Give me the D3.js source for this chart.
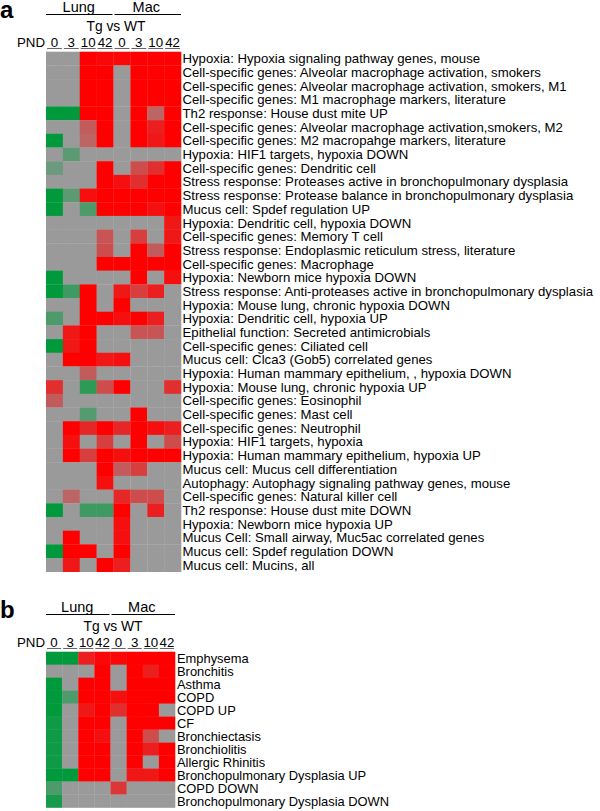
<!DOCTYPE html>
<html>
<head>
<meta charset="utf-8">
<script src="https://cdn.jsdelivr.net/npm/d3@7"></script>
<style>
  html, body { margin: 0; padding: 0; background: #fff; }
  svg { display: block; font-family: "Liberation Sans", Arial, sans-serif; }
</style>
</head>
<body>
<svg id="chart" width="600" height="811"></svg>
<script>
// ---- data ----
const columns = ["L0", "L3", "L10", "L42", "M0", "M3", "M10", "M42"];
const columnLabels = ["0", "3", "10", "42", "0", "3", "10", "42"];
const groups = ["Lung", "Mac"];

const rowsA = [
  "Hypoxia: Hypoxia signaling pathway genes, mouse",
  "Cell-specific genes: Alveolar macrophage activation, smokers",
  "Cell-specific genes: Alveolar macrophage activation, smokers, M1",
  "Cell-specific genes: M1 macrophage markers, literature",
  "Th2 response: House dust mite UP",
  "Cell-specific genes: Alveolar macrophage activation,smokers, M2",
  "Cell-specific genes: M2 macropahge markers, literature",
  "Hypoxia: HIF1 targets, hypoxia DOWN",
  "Cell-specific genes: Dendritic cell",
  "Stress response: Proteases active in bronchopulmonary dysplasia",
  "Stress response: Protease balance in bronchopulmonary dysplasia",
  "Mucus cell: Spdef regulation UP",
  "Hypoxia: Dendritic cell, hypoxia DOWN",
  "Cell-specific genes: Memory T cell",
  "Stress response: Endoplasmic reticulum stress, literature",
  "Cell-specific genes: Macrophage",
  "Hypoxia: Newborn mice hypoxia DOWN",
  "Stress response: Anti-proteases active in bronchopulmonary dysplasia",
  "Hypoxia: Mouse lung, chronic hypoxia DOWN",
  "Hypoxia: Dendritic cell, hypoxia UP",
  "Epithelial function: Secreted antimicrobials",
  "Cell-specific genes: Ciliated cell",
  "Mucus cell: Clca3 (Gob5) correlated genes",
  "Hypoxia: Human mammary epithelium, , hypoxia DOWN",
  "Hypoxia: Mouse lung, chronic hypoxia UP",
  "Cell-specific genes: Eosinophil",
  "Cell-specific genes: Mast cell",
  "Cell-specific genes: Neutrophil",
  "Hypoxia: HIF1 targets, hypoxia",
  "Hypoxia: Human mammary epithelium, hypoxia UP",
  "Mucus cell: Mucus cell differentiation",
  "Autophagy: Autophagy signaling pathway genes, mouse",
  "Cell-specific genes: Natural killer cell",
  "Th2 response: House dust mite DOWN",
  "Hypoxia: Newborn mice hypoxia UP",
  "Mucus Cell: Small airway, Muc5ac correlated genes",
  "Mucus cell: Spdef regulation DOWN",
  "Mucus cell: Mucins, all"
];

// enrichment score: +1 = up (red), -1 = down (green), 0 = not significant (gray)
const valuesA = [
  [0, 0, 1, 0.95, 0.95, 1, 1, 1],
  [0, 0, 1, 1, 0, 1, 1, 1],
  [0, 0, 1, 1, 0, 1, 1, 1],
  [0, 0, 1, 1, 0, 1, 1, 1],
  [-1, -1, 1, 1, 0, 1, 0.35, 1],
  [0, 0, 0.4, 1, 0, 1, 0.8, 1],
  [-1, 0, 0.35, 1, 0, 1, 0.85, 1],
  [0, -0.4, 0, 0, 0, 0, 0, 0],
  [-0.3, 0, 0, 1, 0, 0.5, 0.7, 1],
  [0, 0, 0, 1, 0.9, 0.7, 1, 1],
  [-1, -0.4, 0.9, 1, 1, 1, 1, 1],
  [-1, 0, -0.5, 1, 1, 1, 0.9, 1],
  [0, 0, 0, 0, 0, 0, 0, 0.85],
  [0, 0, 0, 0.45, 0, 0.6, 0, 0.85],
  [0, 0, 0, 0.5, 0, 1, 0.4, 1],
  [0, 0, 0, 1, 1, 1, 1, 1],
  [-1, 0, 0, 0, 0, 1, 0, 0.9],
  [-1, -0.6, 1, 0, 0.85, 0.6, 0.8, 0],
  [0, 0, 1, 0, 1, 0, 0, 0],
  [-0.5, 0, 1, 1, 0.9, 1, 0.8, 0],
  [0, 0.85, 1, 0, 0, 0.45, 0.45, 0],
  [-1, 0.85, 1, 0, 0, 0, 0, 0],
  [0, 1, 1, 0.85, 0.9, 0, 0, 0],
  [0, 0, 0.4, 0, 0, 0, 0, 0],
  [0.7, 0, -0.7, 0.5, 1, 0, 0, 0.7],
  [0.4, 0, 0, 0, 0, 0, 0, 0],
  [0, 0, -0.45, 0, 0, 1, 0, 0],
  [0, 1, 0.75, 1, 0.75, 1, 0.9, 0.8],
  [0, 0.9, 0, 0.6, 0, 1, 0, 0.5],
  [0, 1, 0.6, 1, 0.9, 1, 1, 1],
  [0, 0, 0, 1, 0.4, 0.6, 0, 0],
  [0, 0, 0, 0.9, 0, 0, 0, 0],
  [0, 0.35, 0, 0, 0.75, 0.5, 0.5, 0],
  [-1, 0, -0.6, -0.6, 1, 0, 0.8, 0],
  [0, 0, 0, 0, 0.9, 0, 0, 0],
  [0, 1, 0, 0, 0.9, 0, 0, 0],
  [-1, 1, 1, 0, 1, 0, 0, 0],
  [0, 0.85, 0, 1, 0.8, 0, 0, 0]
];

const rowsB = [
  "Emphysema", "Bronchitis", "Asthma", "COPD", "COPD UP", "CF",
  "Bronchiectasis", "Bronchiolitis", "Allergic Rhinitis",
  "Bronchopulmonary Dysplasia UP", "COPD DOWN", "Bronchopulmonary Dysplasia DOWN"
];

const valuesB = [
  [-1, -1, 0.8, 0.95, 0.95, 1, 1, 1],
  [0, 0, 0, 1, 0, 1, 0.8, 1],
  [-1, 0, 1, 1, 0, 1, 1, 1],
  [-1, -0.5, 1, 1, 0.9, 1, 1, 1],
  [-1, 0, 0.85, 1, 0.7, 1, 1, 0],
  [-0.9, 0, 1, 1, 0, 1, 1, 1],
  [-0.9, 0, 1, 0.9, 0, 1, 0.5, 0],
  [-0.9, 0, 1, 1, 0, 1, 0.8, 1],
  [-0.9, 0, 1, 1, 0, 1, 0, 1],
  [-1, -1, 1, 1, 0, 0.85, 0.85, 1],
  [-0.5, 0, 0, 0, 0.65, 0, 0, 0],
  [-0.85, 0, 0, 0, 0, 0, 0, 0]
];

// ---- drawing ----
const GRAY = "#9a9a9a", RED = "#ff0000", GREEN = "#009a3c";
const toRed = d3.interpolateRgb(GRAY, RED);
const toGreen = d3.interpolateRgb(GRAY, GREEN);
const color = v => v > 0 ? toRed(v) : (v < 0 ? toGreen(-v) : GRAY);

const svg = d3.select("#chart");
svg.append("rect").attr("width", 600).attr("height", 811).attr("fill", "#fff");

function panel(opts) {
  const { letter, top, rows, values, x0, x1, y0, y1, labelX, labelSize, tgX } = opts;
  const g = svg.append("g");
  const x = d3.scaleBand().domain(columns).range([x0, x1]);
  const y = d3.scaleBand().domain(rows).range([y0, y1]);

  // panel letter
  g.append("text").attr("x", 0).attr("y", top + 18)
    .attr("font-size", 24).attr("font-weight", "bold").text(letter);

  // group headers
  const groupCols = [columns.slice(0, 4), columns.slice(4)];
  groups.forEach((name, i) => {
    const a = x(groupCols[i][0]), b = x(groupCols[i][3]) + x.bandwidth();
    g.append("text").attr("x", (a + b) / 2 - 1).attr("y", top + 12)
      .attr("text-anchor", "middle").attr("font-size", 14.5).text(name);
    g.append("line").attr("x1", a + (i ? 1 : 0)).attr("x2", b - (i ? 0 : 1))
      .attr("y1", top + 14.5).attr("y2", top + 14.5)
      .attr("stroke", "#000").attr("stroke-width", 1);
  });

  g.append("text").attr("x", tgX).attr("y", top + 30.5)
    .attr("text-anchor", "middle").attr("font-size", 13.8).text("Tg vs WT");

  g.append("text").attr("x", x0 - 1).attr("y", top + 46.5)
    .attr("text-anchor", "end").attr("font-size", 13.3).text("PND");

  columns.forEach((c, i) => {
    g.append("text").attr("x", x(c) + x.bandwidth() / 2).attr("y", top + 46.5)
      .attr("text-anchor", "middle").attr("font-size", 13.3).text(columnLabels[i]);
    g.append("line").attr("x1", x(c) + 1).attr("x2", x(c) + x.bandwidth() - 1)
      .attr("y1", top + 48.5).attr("y2", top + 48.5)
      .attr("stroke", "#666").attr("stroke-width", 1);
  });

  // cells
  const cells = [];
  rows.forEach((r, ri) => columns.forEach((c, ci) => cells.push({ r, c, v: values[ri][ci] })));
  g.selectAll("rect.cell").data(cells).enter().append("rect")
    .attr("class", "cell")
    .attr("x", d => x(d.c)).attr("y", d => y(d.r))
    .attr("width", x.bandwidth() + 0.3).attr("height", y.bandwidth() + 0.3)
    .attr("fill", d => color(d.v));

  // row labels
  g.selectAll("text.row").data(rows).enter().append("text")
    .attr("class", "row")
    .attr("x", labelX).attr("y", d => y(d) + y.bandwidth() / 2)
    .attr("dy", "0.36em").attr("font-size", labelSize).text(d => d);
}

panel({ letter: "a", top: 0, rows: rowsA, values: valuesA,
        x0: 46, x1: 181, y0: 51.7, y1: 571.7, labelX: 182.5, labelSize: 13.2, tgX: 116 });
panel({ letter: "b", top: 600, rows: rowsB, values: valuesB,
        x0: 46, x1: 175, y0: 651.7, y1: 807.5, labelX: 177, labelSize: 12.9, tgX: 113 });
</script>
</body>
</html>
